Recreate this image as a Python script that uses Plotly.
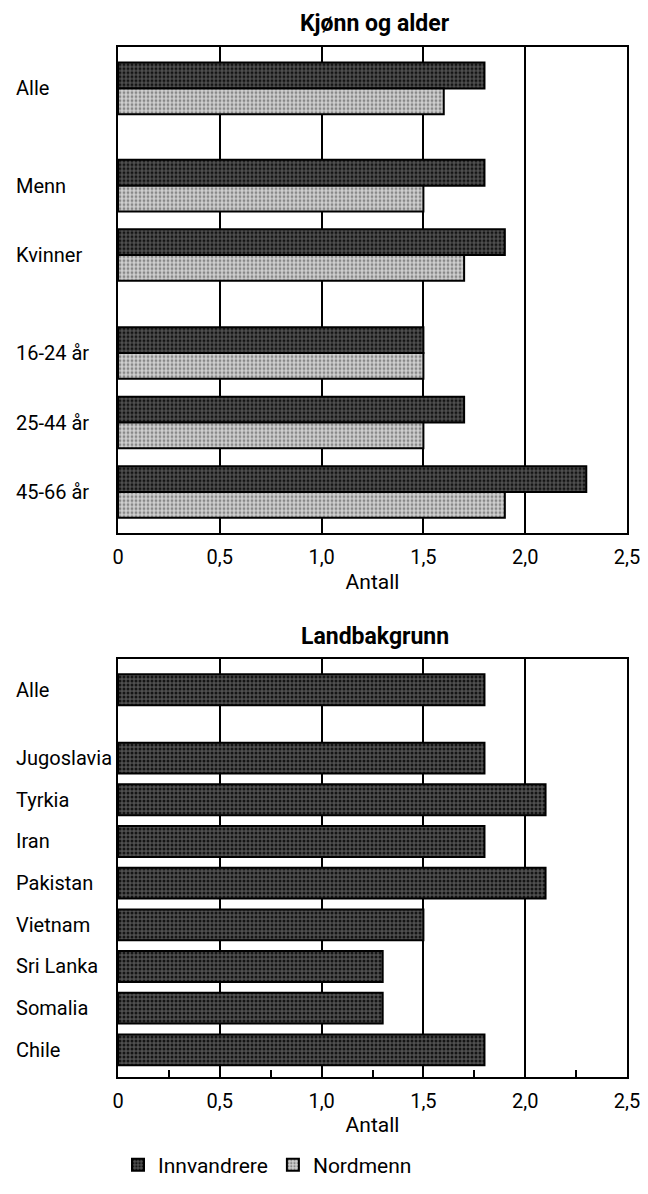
import plotly.graph_objects as go

# ---- data ----
top_categories = ["Alle", "Menn", "Kvinner", "16-24 år", "25-44 år", "45-66 år"]
top_innvandrere = [1.8, 1.8, 1.9, 1.5, 1.7, 2.3]
top_nordmenn = [1.6, 1.5, 1.7, 1.5, 1.5, 1.9]

bottom_categories = ["Alle", "Jugoslavia", "Tyrkia", "Iran", "Pakistan",
                     "Vietnam", "Sri Lanka", "Somalia", "Chile"]
bottom_innvandrere = [1.8, 1.8, 2.1, 1.8, 2.1, 1.5, 1.3, 1.3, 1.8]

x_tickvals = [0, 0.5, 1.0, 1.5, 2.0, 2.5]
x_ticktext = ["0", "0,5", "1,0", "1,5", "2,0", "2,5"]
x_minor = [0.25, 0.75, 1.25, 1.75, 2.25]

# ---- layout (slot positions along the category axis) ----
top_slots = [0, 1.4, 2.4, 3.81, 4.81, 5.81]
bottom_slots = [0, 1.64, 2.64, 3.64, 4.64, 5.64, 6.64, 7.64, 8.64]

# page body has an 8px margin: figure coords = page coords - 8
OFF = 8
W, H = 632, 1178
L, R = 110, 13
PW = W - L - R
FONT = "Roboto, Liberation Sans, Arial, sans-serif"
FS = 20
DARK_BG, DARK_FG = "#505050", "#151515"
LIGHT_BG, LIGHT_FG = "#d0d0d0", "#888888"


def py(page_px):
    return 1 - (page_px - OFF) / H


def px_paper(page_px):
    return (page_px - OFF - L) / PW


dark_marker = dict(color=DARK_BG, line=dict(color="black", width=2),
                   pattern=dict(shape=".", fgcolor=DARK_FG, bgcolor=DARK_BG,
                                size=4, solidity=0.45, fillmode="replace"))
light_marker = dict(color=LIGHT_BG, line=dict(color="black", width=2),
                    pattern=dict(shape=".", fgcolor=LIGHT_FG, bgcolor=LIGHT_BG,
                                 size=4, solidity=0.4, fillmode="replace"))

fig = go.Figure()
half = 0.371
fig.add_trace(go.Bar(
    x=top_innvandrere, y=top_slots, orientation="h", name="Innvandrere",
    width=half, offset=-half, marker=dark_marker,
    xaxis="x", yaxis="y", showlegend=True, legendrank=1))
fig.add_trace(go.Bar(
    x=top_nordmenn, y=top_slots, orientation="h", name="Nordmenn",
    width=half, offset=0, marker=light_marker,
    xaxis="x", yaxis="y", showlegend=True, legendrank=2))
fig.add_trace(go.Bar(
    x=bottom_innvandrere, y=bottom_slots, orientation="h", name="Innvandrere",
    width=0.74, marker=dark_marker,
    xaxis="x2", yaxis="y2", showlegend=False))

xcommon = dict(
    range=[0, 2.5], tickvals=x_tickvals, ticktext=x_ticktext,
    showgrid=True, gridcolor="black", gridwidth=1.5,
    showline=True, mirror=True, linecolor="black", linewidth=2,
    zeroline=False, ticks="outside", ticklen=5, tickcolor="rgba(0,0,0,0)",
    ticklabeloverflow="allow",
    tickfont=dict(size=FS, color="black", family=FONT),
    title=dict(text="Antall", font=dict(size=21, color="black", family=FONT), standoff=6),
    fixedrange=True,
)
ycommon = dict(showticklabels=False, showgrid=False, zeroline=False,
               showline=True, mirror=True, linecolor="black", linewidth=2,
               ticks="", fixedrange=True)

annotations = []
for name, s in zip(top_categories, top_slots):
    annotations.append(dict(text=name, x=px_paper(14), xref="paper", xanchor="left",
                            y=s, yref="y", yanchor="middle", showarrow=False,
                            font=dict(size=FS, color="black", family=FONT)))
for name, s in zip(bottom_categories, bottom_slots):
    annotations.append(dict(text=name, x=px_paper(14), xref="paper", xanchor="left",
                            y=s, yref="y2", yanchor="middle", showarrow=False,
                            font=dict(size=FS, color="black", family=FONT)))
annotations.append(dict(text="<b>Kjønn og alder</b>", x=px_paper(375), xref="paper", xanchor="center",
                        y=py(24), yref="paper", yanchor="middle", showarrow=False,
                        font=dict(size=23, color="black", family=FONT)))
annotations.append(dict(text="<b>Landbakgrunn</b>", x=px_paper(375), xref="paper", xanchor="center",
                        y=py(641), yref="paper", yanchor="middle", showarrow=False,
                        font=dict(size=23, color="black", family=FONT)))

fig.update_layout(
    width=W, height=H,
    margin=dict(l=L, r=R, t=0, b=0),
    paper_bgcolor="white", plot_bgcolor="white",
    barmode="overlay",
    xaxis=dict(**xcommon, anchor="y"),
    yaxis=dict(**ycommon, domain=[py(537), py(47)], range=[6.4, -0.6], anchor="x"),
    xaxis2=dict(**xcommon, anchor="y2",
                minor=dict(tickvals=x_minor, ticks="inside", ticklen=7,
                           tickcolor="black", tickwidth=1.5, showgrid=False)),
    yaxis2=dict(**ycommon, domain=[py(1085), py(664)], range=[9.286, -0.738], anchor="x2"),
    legend=dict(orientation="h", x=px_paper(118), xanchor="left", y=py(1174), yanchor="middle",
                font=dict(size=21, color="black", family=FONT),
                itemwidth=30, tracegroupgap=0, bgcolor="rgba(0,0,0,0)"),
    annotations=annotations,
    font=dict(family=FONT, color="black"),
)

fig.write_html("out.html")
